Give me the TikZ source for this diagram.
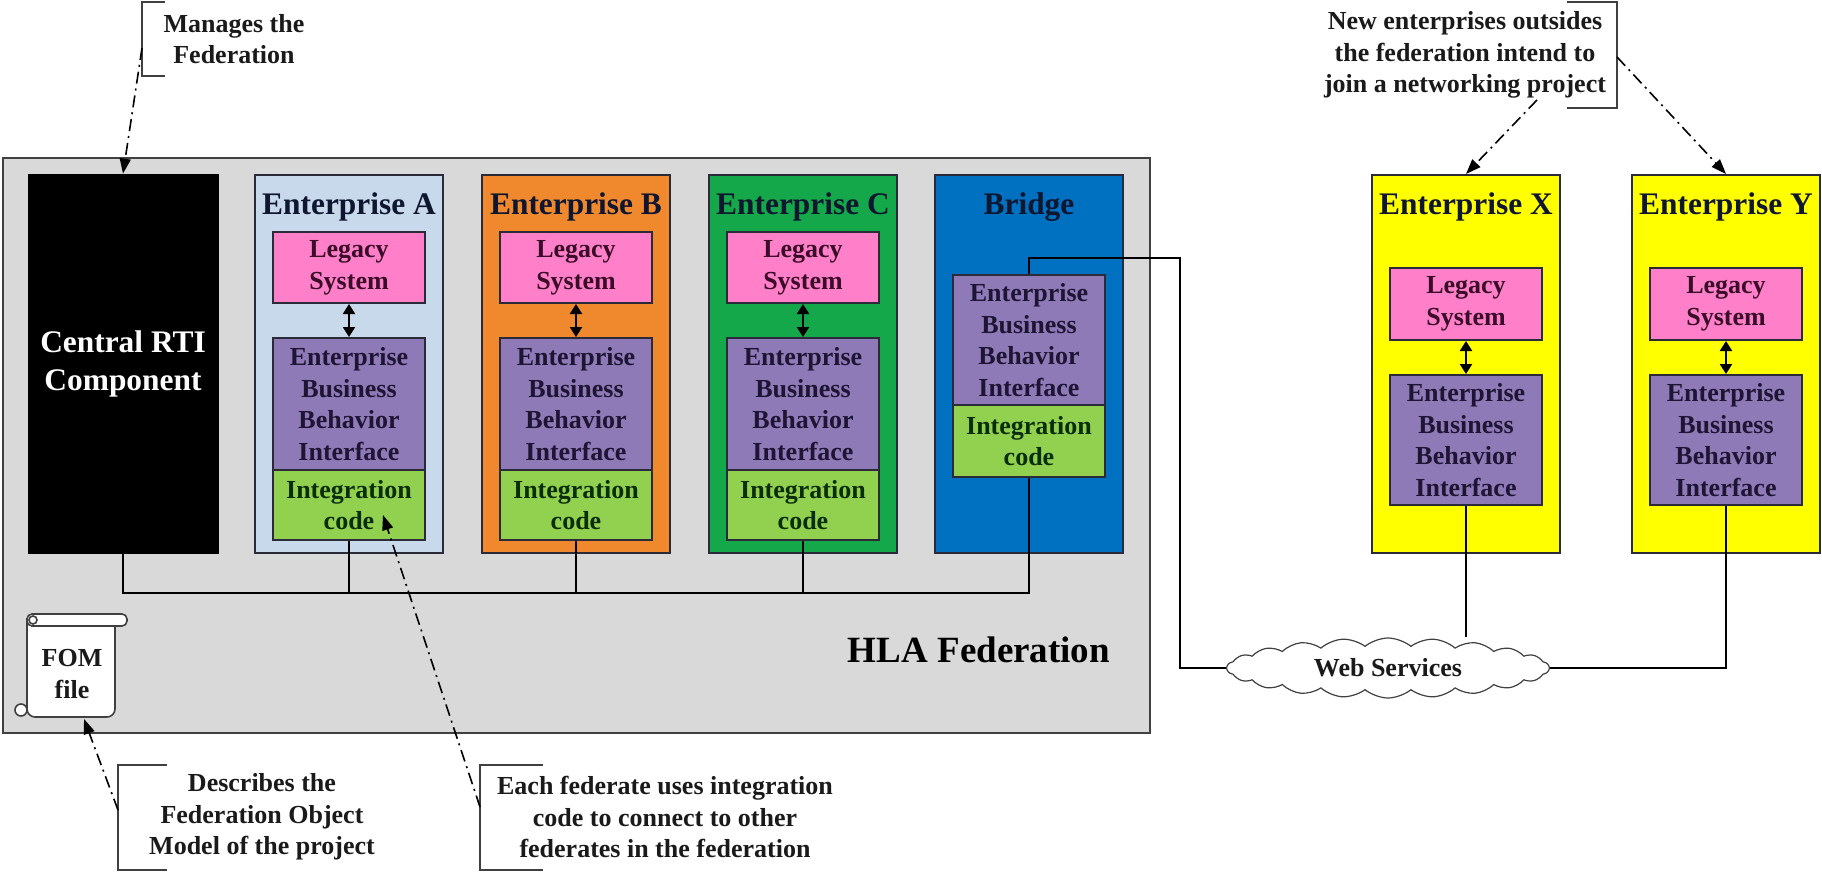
\documentclass[tikz,border=0pt]{standalone}
\usepackage{fontspec}
\setmainfont{Liberation Serif}
\usetikzlibrary{shapes.symbols,arrows.meta}
\definecolor{hlagray}{HTML}{D9D9D9}
\definecolor{hlaedge}{HTML}{404040}
\definecolor{edgec}{HTML}{2A2A38}
\definecolor{entA}{HTML}{C9D9EC}
\definecolor{entB}{HTML}{F0892E}
\definecolor{entC}{HTML}{14A84B}
\definecolor{bridgec}{HTML}{0070C0}
\definecolor{yellowc}{HTML}{FFFF00}
\definecolor{pinkc}{HTML}{FF80C8}
\definecolor{purplec}{HTML}{8F7AB8}
\definecolor{greenc}{HTML}{92D050}
\definecolor{ttltext}{HTML}{0E1630}
\definecolor{legtext}{HTML}{3A0C2A}
\definecolor{ebbitext}{HTML}{1E1433}
\definecolor{inttext}{HTML}{0A2E0A}
\definecolor{notetext}{HTML}{1A1A1A}
\newcommand\bodyf{\fontsize{13}{15.8}\selectfont\bfseries}
\newcommand\titlef{\fontsize{15.7}{19}\selectfont\bfseries}
\begin{document}
\begin{tikzpicture}[x=0.5pt,y=-0.5pt,
  col/.style={draw=edgec, line width=1pt, minimum width=94pt, minimum height=189pt, inner sep=0pt},
  titlet/.style={font=\titlef, text=ttltext, inner sep=0pt},
  inbox/.style={draw=edgec, line width=1pt, minimum width=76pt, inner sep=0pt, align=center, font=\bodyf},
  legacy/.style={inbox, fill=pinkc, minimum height=35.5pt, text=legtext},
  ebbi/.style={inbox, fill=purplec, minimum height=66pt, text=ebbitext},
  integ/.style={inbox, fill=greenc, minimum height=35pt, text=inttext},
  wire/.style={line width=1.3pt, draw=black},
  dbl/.style={line width=1.1pt, {Triangle[length=5pt,width=6pt]}-{Triangle[length=5pt,width=6pt]}},
  callarrow/.style={line width=0.8pt, draw=black, dash pattern=on 6pt off 2.5pt on 1pt off 2.5pt, -{Triangle[length=7.5pt,width=5.5pt]}},
  bracket/.style={line width=0.8pt, draw=hlaedge},
  note/.style={align=center, font=\bodyf, text=notetext, inner sep=0pt}
]
\useasboundingbox (0,0) rectangle (1822,872);

% HLA federation area
\node[draw=hlaedge, fill=hlagray, line width=1pt, minimum width=573.5pt, minimum height=287.5pt, inner sep=0pt] (hla) at (576.5,445.5) {};
\node[font=\fontsize{18.5}{22}\selectfont\bfseries, text=black, inner sep=0pt] (hlatitle) at (979,650) {HLA Federation};

% Central RTI
\node[fill=black, draw=black, minimum width=95pt, minimum height=189.5pt, inner sep=0pt, align=center,
      font=\fontsize{15.7}{19}\selectfont\bfseries, text=white] (rti) at (123,363.5) {Central RTI\\Component};

% Enterprises A, B, C
\foreach \n/\cx/\fc/\ttl in {A/349/entA/Enterprise A,B/576/entB/Enterprise B,C/803/entC/Enterprise C}{
  \node[col, fill=\fc] (col\n) at (\cx,364) {};
  \node[titlet] (ttl\n) at (\cx,207) {\ttl};
  \node[legacy] (leg\n) at (\cx,267.5) {Legacy\\System};
  \node[ebbi] (ebbi\n) at (\cx,404) {Enterprise\\Business\\Behavior\\Interface};
  \node[integ] (int\n) at (\cx,505) {Integration\\code};
  \draw[dbl] (leg\n) -- (ebbi\n);
}

% Bridge
\node[col, fill=bridgec] (colBr) at (1029,364) {};
\node[titlet] (ttlBr) at (1029,207) {Bridge};
\node[ebbi, minimum height=65pt] (ebbiBr) at (1029,340) {Enterprise\\Business\\Behavior\\Interface};
\node[integ, minimum height=36pt] (intBr) at (1029,441) {Integration\\code};

% Enterprises X, Y
\foreach \n/\cx/\ttl in {X/1466/Enterprise X,Y/1726/Enterprise Y}{
  \node[col, fill=yellowc] (col\n) at (\cx,364) {};
  \node[titlet] (ttl\n) at (\cx,207) {\ttl};
  \node[legacy, minimum height=36pt] (leg\n) at (\cx,304) {Legacy\\System};
  \node[ebbi, minimum height=65pt] (ebbi\n) at (\cx,440) {Enterprise\\Business\\Behavior\\Interface};
  \draw[dbl] (leg\n) -- (ebbi\n);
}

% Federation bus
\coordinate (busy) at (0,593);
\draw[wire] (rti.south) -- (rti.south |- busy) -- (intBr.south |- busy) -- (intBr.south);
\foreach \n in {A,B,C}{
  \draw[wire] (int\n.south) -- (int\n.south |- busy);
}

% Web services cloud
\node[cloud, cloud puffs=22, cloud puff arc=80, aspect=5.2, draw=hlaedge, line width=0.6pt, fill=white,
      minimum width=161pt, minimum height=30pt, inner sep=0pt, font=\bodyf, text=notetext] (cloud) at (1388,668) {Web Services};

\coordinate (bend1) at (1180,258);
\draw[wire] (ebbiBr.north) |- (bend1) |- (cloud.west);
\draw[wire] (ebbiX.south) -- (ebbiX.south |- cloud.north);
\draw[wire] (ebbiY.south) |- (cloud.east);

% FOM file scroll
\draw[draw=hlaedge, line width=0.8pt, fill=white, rounded corners=4pt] (27,618) -- (27,717) -- (115,717) -- (115,620);
\draw[draw=hlaedge, line width=0.8pt, fill=white, rounded corners=2.5pt] (27,614) rectangle (127,626);
\draw[draw=hlaedge, line width=0.8pt, fill=white] (33,620) circle (4);
\draw[draw=hlaedge, line width=0.8pt, fill=white] (21,710) circle (6);
\node[note, font=\fontsize{13}{16}\selectfont\bfseries] (fom) at (72,674) {FOM\\file};
\coordinate (fomtip) at (84,719);

% Callouts
\node[note] (mgr) at (234,39) {Manages the\\Federation};
\draw[bracket] (165,2) -- (142,2) -- (142,76) -- (165,76);
\coordinate (s1) at (142,48);
\draw[callarrow] (s1) -- (rti.north);

\node[note] (fomnote) at (262,817) {Describes the\\Federation Object\\Model of the project};
\draw[bracket] (167,765) -- (118,765) -- (118,870) -- (167,870);
\coordinate (s2) at (118,810);
\draw[callarrow] (s2) -- (fomtip);

\node[note] (intnote) at (665,817) {Each federate uses integration\\code to connect to other\\federates in the federation};
\draw[bracket] (543,765) -- (480,765) -- (480,870) -- (543,870);
\coordinate (s3) at (480,807);
\coordinate (ctip) at (383,515);
\draw[callarrow] (s3) -- (ctip);

\node[note] (newnote) at (1465,55) {New enterprises outsides\\the federation intend to\\join a networking project};
\draw[bracket] (1567,2) -- (1617,2) -- (1617,108) -- (1567,108);
\coordinate (s4) at (1537,100);
\coordinate (s5) at (1617,57);
\draw[callarrow] (s4) -- (colX.north);
\draw[callarrow] (s5) -- (colY.north);
\end{tikzpicture}
\end{document}
